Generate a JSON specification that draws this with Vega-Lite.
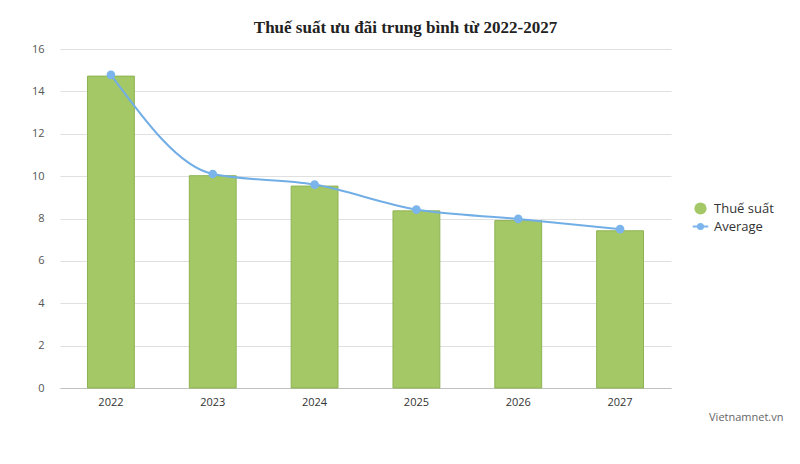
{
  "$schema": "https://vega.github.io/schema/vega-lite/v6.json",
  "autosize": {"type": "none"},
  "padding": {"left": 60, "top": 49, "right": 129, "bottom": 76},
  "width": 611,
  "height": 339,
  "background": "white",
  "title": {
    "text": "Thuế suất ưu đãi trung bình từ 2022-2027",
    "font": "Liberation Serif",
    "fontSize": 17,
    "fontWeight": "bold",
    "color": "#222222",
    "anchor": "middle",
    "dx": 40,
    "offset": 6
  },
  "data": {
    "values": [
      {"year": "2022", "tax": 14.72, "avg": 14.78},
      {"year": "2023", "tax": 10.02, "avg": 10.1},
      {"year": "2024", "tax": 9.53, "avg": 9.6},
      {"year": "2025", "tax": 8.36, "avg": 8.42},
      {"year": "2026", "tax": 7.9, "avg": 7.98},
      {"year": "2027", "tax": 7.42, "avg": 7.5}
    ]
  },
  "config": {
    "view": {"stroke": null},
    "font": "Open Sans"
  },
  "encoding": {
    "x": {
      "field": "year",
      "type": "nominal",
      "scale": {"paddingInner": 0.54, "paddingOuter": 0.27},
      "axis": {
        "labelAngle": 0,
        "labelFontSize": 11,
        "labelColor": "#333333",
        "labelPadding": 8,
        "ticks": false,
        "domainColor": "#c0c0c0",
        "title": "Vietnamnet.vn",
        "titleFontSize": 11,
        "titleFontWeight": "normal",
        "titleColor": "#666666",
        "titleAlign": "right",
        "titleBaseline": "middle",
        "titleX": 723,
        "titleY": 29
      }
    }
  },
  "layer": [
    {
      "mark": {"type": "bar", "fill": "#a5c866", "stroke": "#8db352", "strokeWidth": 1},
      "encoding": {
        "y": {
          "field": "tax",
          "type": "quantitative",
          "scale": {"domain": [0, 16]},
          "axis": {
            "values": [0, 2, 4, 6, 8, 10, 12, 14, 16],
            "title": null,
            "domain": false,
            "ticks": false,
            "labelPadding": 16,
            "labelFontSize": 11,
            "labelColor": "#555555",
            "gridColor": "#e0e0e0"
          }
        },
        "color": {
          "datum": "Thuế suất",
          "type": "nominal",
          "scale": {"domain": ["Thuế suất", "Average"], "range": ["#a5c866", "#7cb5ec"]}
        }
      }
    },
    {
      "mark": {"type": "line", "interpolate": "monotone", "color": "#72aee6", "strokeWidth": 2},
      "encoding": {
        "y": {"field": "avg", "type": "quantitative"}
      }
    },
    {
      "mark": {"type": "point", "filled": true, "shape": "circle", "size": 75, "opacity": 1},
      "encoding": {
        "y": {"field": "avg", "type": "quantitative"},
        "color": {
          "datum": "Average",
          "type": "nominal",
          "legend": {
            "title": null,
            "orient": "none",
            "legendX": 633,
            "legendY": 152,
            "labelFontSize": 13,
            "labelColor": "#333333",
            "labelFontWeight": 500,
            "symbolType": "circle",
            "symbolSize": 150,
            "symbolOpacity": 1,
            "rowPadding": 0,
            "labelOffset": 6,
            "encode": {
              "symbols": {
                "update": {
                  "shape": {"signal": "datum.value === 'Average' ? 'M-1,0L1,0M-0.33,0A0.33,0.33 0 1,1 0.33,0A0.33,0.33 0 1,1 -0.33,0Z' : 'circle'"},
                  "size": {"signal": "datum.value === 'Average' ? 240 : 150"},
                  "stroke": {"signal": "datum.value === 'Average' ? '#7cb5ec' : 'transparent'"},
                  "strokeWidth": {"value": 2}
                }
              }
            }
          }
        }
      }
    }
  ]
}
